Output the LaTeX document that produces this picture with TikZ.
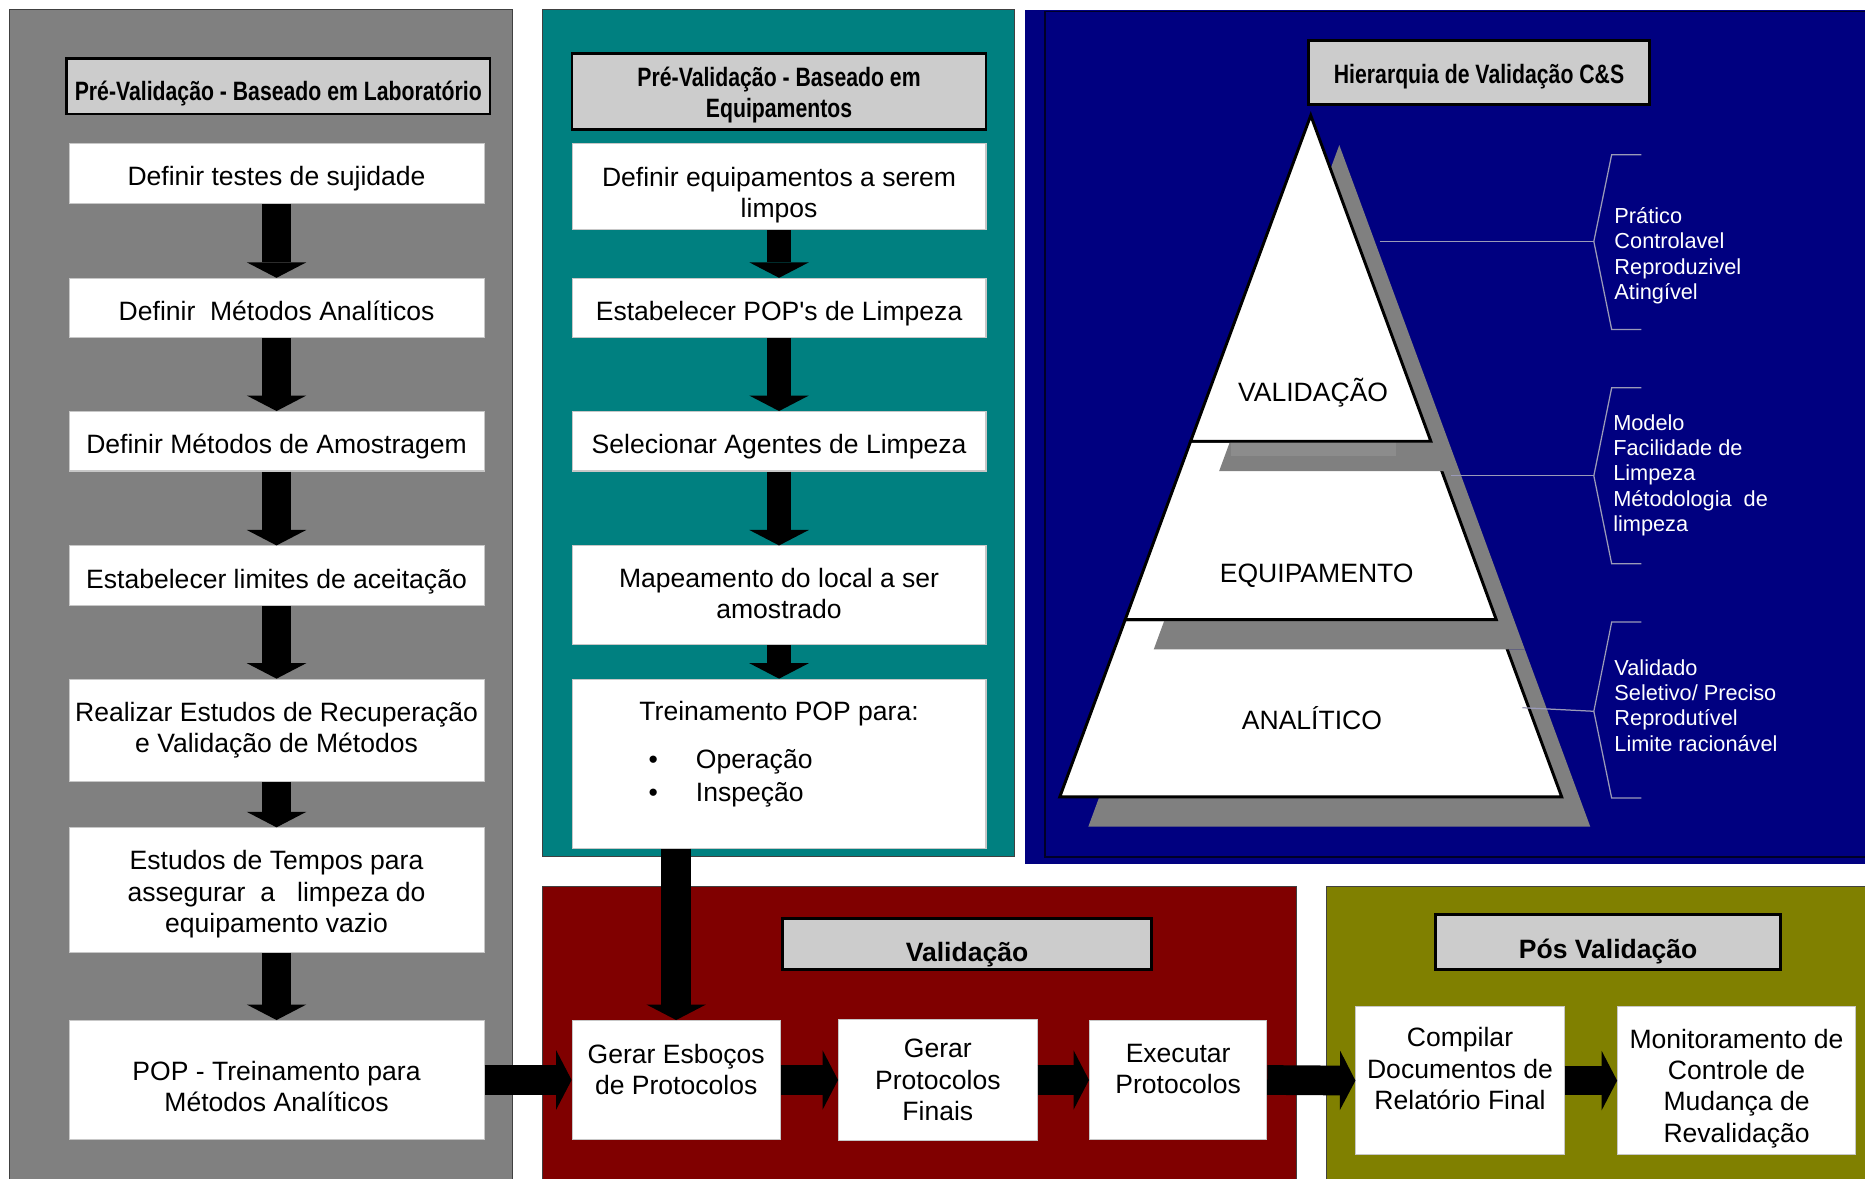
\documentclass[tikz,border=0pt]{standalone}
\usepackage{fontspec}
\setmainfont{Liberation Sans}
\newfontfamily\narrowfont{Liberation Sans}[FakeStretch=0.8]
\usetikzlibrary{arrows.meta}
\definecolor{panelgray}{HTML}{808080}
\definecolor{panelteal}{HTML}{008080}
\definecolor{panelnavy}{HTML}{000080}
\definecolor{panelred}{HTML}{800000}
\definecolor{panelolive}{HTML}{808000}
\definecolor{hdrgray}{HTML}{CCCCCC}
\definecolor{bracketgray}{HTML}{9A9AB8}
\newcommand\bodysize{\fontsize{12.7}{15}\selectfont}
\newcommand\listsize{\fontsize{10.4}{12.1}\selectfont}

\begin{document}
\begin{tikzpicture}[x=0.02cm, y=-0.02cm,
  panel/.style={draw=black!75, line width=0.6pt},
  hdr/.style={draw=black, line width=1.2pt, fill=hdrgray, inner sep=0pt, align=center, font=\narrowfont\bfseries\bodysize},
  hdrb/.style={hdr, font=\bfseries\bodysize},
  box/.style={draw=black!22, line width=0.5pt, fill=white, inner sep=0pt, align=center, font=\bodysize},
  lbox/.style={box, minimum width=6.98cm, minimum height=1cm},
  mbox/.style={box, minimum width=6.96cm, minimum height=1cm},
  one/.style={text height=#1, text depth=0pt},
  one/.default=11.8pt,
  txt/.style={inner sep=0pt, align=center, font=\bodysize},
  flow/.style={line width=0.5cm, -{Triangle[width=1cm, length=0.26cm, line width=0pt]}},
  flowthin/.style={flow, line width=0.4cm},
  layer/.style={fill=white, draw=black, line width=1.4pt},
  brace/.style={draw=bracketgray, line width=0.6pt},
  lista/.style={inner sep=0pt, anchor=west, align=left, text=white, font=\listsize},
]
\useasboundingbox (0,0) rectangle (1568,991);
\fill[white] (0,0) rectangle (1568,991);

% 背景
\draw[panel, fill=panelgray] (8,8) rectangle (431,1010);
\draw[panel, fill=panelteal] (456,8) rectangle (853,720);
\fill[panelnavy] (862,8) rectangle (1590,726);
\draw[black!70!panelnavy, line width=0.6pt] (878.6,9.5) rectangle (1600,720.6);
\draw[panel, fill=panelred] (456,745) rectangle (1090,1010);
\draw[panel, fill=panelolive] (1115,745) rectangle (1600,1010);

% 左栏
\node[hdr, one=14pt, minimum width=7.12cm, minimum height=0.94cm] (HL) at (234,72.5) {Pré-Validação - Baseado em Laboratório};
\node[lbox, one] (L1) at (232.5,146) {Definir testes de sujidade};
\node[lbox, one] (L2) at (232.5,259) {Definir~ Métodos Analíticos};
\node[lbox, one] (L3) at (232.5,371) {Definir Métodos de Amostragem};
\node[lbox, one] (L4) at (232.5,484) {Estabelecer limites de aceitação};
\node[lbox, minimum height=1.72cm] (L5) at (232.5,614) {Realizar Estudos de Recuperação\\e Validação de Métodos};
\node[lbox, minimum height=2.1cm] (L6) at (232.5,748.5) {};
\node[txt] (L6t) at (232.5,752) {Estudos de Tempos para\\assegurar~ a~~ limpeza do\\equipamento vazio};
\node[lbox, minimum height=2cm] (L7) at (232.5,908) {};
\node[txt] (L7t) at (232.5,913.5) {POP - Treinamento para\\Métodos Analíticos};
\draw[flow] (L1.south) -- (L2.north);
\draw[flow] (L2.south) -- (L3.north);
\draw[flow] (L3.south) -- (L4.north);
\draw[flow] (L4.south) -- (L5.north);
\draw[flow] (L5.south) -- (L6.north);
\draw[flow] (L6.south) -- (L7.north);

% 中栏
\node[hdr, minimum width=6.96cm, minimum height=1.28cm] (HM) at (655,77) {};
\node[txt, font=\narrowfont\bfseries\bodysize] (HMt) at (655,80) {Pré-Validação - Baseado em\\Equipamentos};
\node[mbox, minimum height=1.44cm] (M1) at (655,157) {};
\node[txt] (M1t) at (655,164) {Definir equipamentos a serem\\limpos};
\node[mbox, one] (M2) at (655,259) {Estabelecer POP\textquotesingle s de Limpeza};
\node[mbox, one] (M3) at (655,371) {Selecionar Agentes de Limpeza};
\node[mbox, minimum height=1.66cm] (M4) at (655,500.5) {};
\node[txt] (M4t) at (655,499) {Mapeamento do local a ser\\amostrado};
\node[mbox, minimum height=2.84cm] (M5) at (655,642) {};
\node[txt] (M5t) at (655,600) {Treinamento POP para:};
\node[txt, anchor=west, align=left] (M5b) at (545,654.5) {\textbullet\hspace{0.64cm}Operação\\[0.9pt]\textbullet\hspace{0.64cm}Inspeção};
\draw[flowthin] (M1.south) -- (M2.north);
\draw[flowthin] (M2.south) -- (M3.north);
\draw[flowthin] (M3.south) -- (M4.north);
\draw[flowthin] (M4.south) -- (M5.north);

% 验证
\node[hdrb, one=17.4pt, minimum width=6.2cm, minimum height=0.86cm] (HV) at (813,793.5) {Validação};
\node[box, minimum width=3.5cm, minimum height=2cm] (R1) at (568.5,908) {};
\node[txt] (R1t) at (568.5,899) {Gerar Esboços\\de Protocolos};
\node[box, minimum width=3.34cm, minimum height=2.04cm] (R2) at (788.5,908) {Gerar\\Protocolos\\Finais};
\node[box, minimum width=2.98cm, minimum height=2cm] (R3) at (990.5,908) {};
\node[txt] (R3t) at (990.5,899) {Executar\\Protocolos};
\draw[flow] (M5.south -| R1.north) -- (R1.north);
\draw[flow] (L7.east) -- (R1.west);
\draw[flow] (R1.east) -- (R2.west);
\draw[flow] (R2.east) -- (R3.west);

% 验证后
\node[hdrb, one=15.7pt, minimum width=5.8cm, minimum height=0.92cm] (HP) at (1352,792) {Pós Validação};
\node[box, minimum width=3.5cm, minimum height=2.5cm] (P1) at (1227.5,908.5) {};
\node[txt] (P1t) at (1227.5,898.5) {Compilar\\Documentos de\\Relatório Final};
\node[box, minimum width=4cm, minimum height=2.5cm] (P2) at (1460,908.5) {};
\node[txt] (P2t) at (1460,915) {Monitoramento de\\Controle de\\Mudança de\\Revalidação};
\draw[flow] (R3.east) -- (P1.west);
\draw[flow] (P1.east) -- (P2.west);

% 金字塔
\node[hdr, one=10.6pt, minimum width=5.74cm, minimum height=1.08cm] (HH) at (1243.5,61) {Hierarquia de Validação C\&S};
\fill[panelgray, shift={(24,25)}] (946,521) -- (1258,521) -- (1313,670) -- (891,670) -- cycle;
\draw[layer] (946,521) -- (1258,521) -- (1313,670) -- (891,670) -- cycle;
\fill[panelgray, shift={(24,25)}] (1001,371) -- (1203,371) -- (1258,521) -- (946,521) -- cycle;
\draw[layer] (1001,371) -- (1203,371) -- (1258,521) -- (946,521) -- cycle;
\fill[panelgray, shift={(24,25)}] (1102,97) -- (1203,371) -- (1001,371) -- cycle;
\fill[black!45] (1035,372) rectangle (1174,383);
\draw[layer] (1102,97) -- (1203,371) -- (1001,371) -- cycle;
\node[txt] (VAL) at (1104,330) {VALIDAÇÃO};
\node[txt] (EQU) at (1107,484) {EQUIPAMENTO};
\node[txt] (ANA) at (1103,604) {ANALÍTICO};

% 括号
\coordinate (b1) at (1340,203);
\coordinate (b2) at (1340,400);
\coordinate (b3) at (1340,598);
\draw[brace] (1380,130) -- (1355,130) -- (b1) -- (1355,277) -- (1380,277);
\draw[brace] (1380,326) -- (1355,326) -- (b2) -- (1355,474) -- (1380,474);
\draw[brace] (1380,523) -- (1355,523) -- (b3) -- (1355,671) -- (1380,671);
\draw[brace] (1160,203) -- (b1);
\draw[brace] (1220,400) -- (b2);
\draw[brace] (1280,595) -- (b3);
\node[lista] (T1) at (1357,215) {Prático\\Controlavel\\Reproduzivel\\Atingível};
\node[lista] (T2) at (1356,399.5) {Modelo\\Facilidade de\\Limpeza\\Métodologia~ de\\limpeza};
\node[lista] (T3) at (1357,593) {Validado\\Seletivo/ Preciso\\Reprodutível\\Limite racionável};
\end{tikzpicture}
\end{document}
